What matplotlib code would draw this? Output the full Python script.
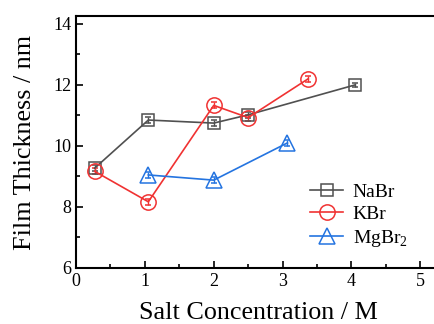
import numpy as np
import matplotlib.pyplot as plt
from matplotlib.ticker import MultipleLocator
from matplotlib.lines import Line2D

plt.rcParams['font.family'] = ['Liberation Serif', 'DejaVu Serif']
plt.rcParams['mathtext.fontset'] = 'custom'
plt.rcParams['mathtext.rm'] = 'Liberation Serif'

# ---------------- data ----------------
nabr_x = [0.27, 1.05, 2.0, 2.5, 4.05]
nabr_y = [9.27, 10.85, 10.75, 11.02, 12.0]
nabr_err = [0.1, 0.1, 0.1, 0.1, 0.08]

kbr_x = [0.27, 1.05, 2.0, 2.5, 3.37]
kbr_y = [9.17, 8.17, 11.33, 10.93, 12.2]
kbr_err = [0.1, 0.1, 0.1, 0.1, 0.1]

mgbr_x = [1.05, 2.0, 3.07]
mgbr_y = [9.05, 8.88, 10.1]
mgbr_err = [0.1, 0.1, 0.1]

series = [
    ("NaBr", nabr_x, nabr_y, nabr_err, "#505050", "s", 9),
    ("KBr", kbr_x, kbr_y, kbr_err, "#f03232", "o", 11),
    (r"MgBr$_2$", mgbr_x, mgbr_y, mgbr_err, "#2474e0", "^", 12),
]

fig = plt.figure(figsize=(4.34, 3.24), dpi=100)
ax = fig.add_axes([76 / 434, 1 - 268 / 324, (441 - 76) / 434, (268 - 16) / 324])

handles = []
for name, x, y, e, c, m, ms in series:
    ax.errorbar(x, y, yerr=e, color=c, marker=m, ms=ms, mfc="none", mec=c,
                mew=1.1, lw=1.2, capsize=2, elinewidth=1, capthick=1)
    handles.append(Line2D([], [], color=c, marker=m, ms=ms, mfc="none", mec=c,
                          mew=1.1, lw=1.2, label=name))

ax.set_xlim(0, 5.3)
ax.set_ylim(6, 14.26)
ax.xaxis.set_major_locator(MultipleLocator(1))
ax.xaxis.set_minor_locator(MultipleLocator(0.5))
ax.yaxis.set_major_locator(MultipleLocator(2))
ax.yaxis.set_minor_locator(MultipleLocator(1))
ax.tick_params(which="both", direction="in", top=False, right=False, labelsize=13, width=1.2)
ax.tick_params(which="major", length=5)
ax.tick_params(which="minor", length=3)
for s in ax.spines.values():
    s.set_linewidth(1.5)

ax.set_xlabel("Salt Concentration / M", fontsize=18.8, labelpad=9)
ax.set_ylabel("Film Thickness / nm", fontsize=18.8, labelpad=12)

ax.legend(handles=handles, loc="upper left", bbox_to_anchor=((310 - 76) / 365, (268 - 183) / 252),
          frameon=False, borderpad=0, borderaxespad=0, fontsize=14,
          handlelength=1.7, labelspacing=0.25, handletextpad=0.5)

fig.savefig("out.png", dpi=100)
